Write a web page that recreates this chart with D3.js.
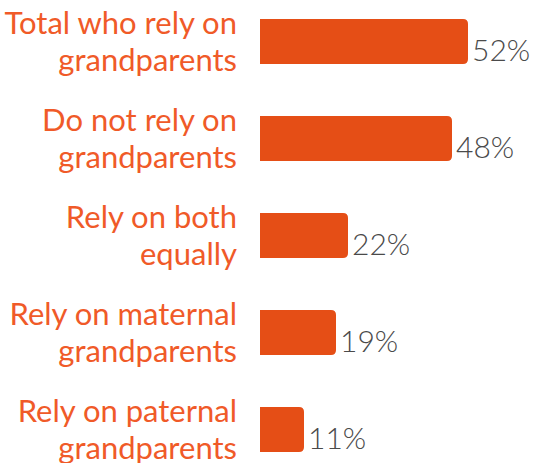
<!DOCTYPE html>
<html>
<head>
<meta charset="utf-8">
<script src="https://cdn.jsdelivr.net/npm/d3@7/dist/d3.min.js"></script>
<style>
  html, body { margin: 0; padding: 0; background: #fff; }
  svg { display: block; }
</style>
</head>
<body>
<svg id="chart" width="535" height="463"></svg>
<script>
// Share of families by reliance on grandparents for childcare
const categories = [
  "Total who rely on grandparents",
  "Do not rely on grandparents",
  "Rely on both equally",
  "Rely on maternal grandparents",
  "Rely on paternal grandparents"
];
const labelLines = [
  ["Total who rely on", "grandparents"],
  ["Do not rely on", "grandparents"],
  ["Rely on both", "equally"],
  ["Rely on maternal", "grandparents"],
  ["Rely on paternal", "grandparents"]
];
const values = [52, 48, 22, 19, 11];

const svg = d3.select("#chart");
const barColor = "#E54E16";
const labelColor = "#F05A28";
const valueColor = "#4a4a4a";

const x = d3.scaleLinear().domain([0, 100]).range([260, 660]);
const y = d3.scaleBand()
  .domain(categories)
  .range([19, 452])
  .paddingInner(52 / 97)
  .paddingOuter(0);

const r = 5;
function barPath(d, i) {
  const x0 = x(0), x1 = x(values[i]);
  const y0 = y(d), h = y.bandwidth();
  const rr = Math.min(r, (x1 - x0) / 2);
  return `M${x0},${y0} H${x1 - rr} Q${x1},${y0} ${x1},${y0 + rr} V${y0 + h - rr} Q${x1},${y0 + h} ${x1 - rr},${y0 + h} H${x0} Z`;
}

svg.append("g").selectAll("path")
  .data(categories)
  .join("path")
  .attr("d", barPath)
  .attr("fill", barColor);

// Category labels, right-aligned left of the bars
const lab = svg.append("g").selectAll("text")
  .data(categories)
  .join("text")
  .attr("text-anchor", "end")
  .attr("font-family", "Lato, 'Open Sans', sans-serif")
  .attr("font-size", 31)
  .attr("fill", labelColor);
lab.each(function(d, i) {
  const cy = y(d) + y.bandwidth() / 2;
  d3.select(this).selectAll("tspan")
    .data(labelLines[i])
    .join("tspan")
    .attr("x", 237)
    .attr("y", (t, j) => cy - 8 + j * 37)
    .text(t => t);
});

// Value labels
svg.append("g").selectAll("text")
  .data(categories)
  .join("text")
  .attr("x", (d, i) => x(values[i]) + 4)
  .attr("y", d => y(d) + y.bandwidth() / 2 + 19)
  .attr("font-family", "Lato, 'Open Sans', sans-serif")
  .attr("font-weight", 300)
  .attr("font-size", 30)
  .attr("fill", valueColor)
  .text((d, i) => values[i] + "%");
</script>
</body>
</html>
